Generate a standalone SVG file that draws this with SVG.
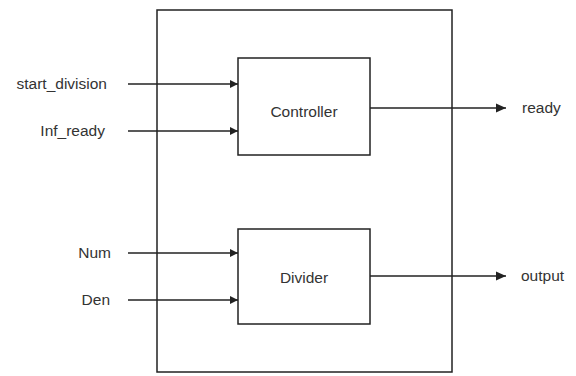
<svg xmlns="http://www.w3.org/2000/svg" width="576" height="376" viewBox="0 0 576 376">
<style>
.box{fill:none;stroke:#222;stroke-width:1.5}
.ln{stroke:#222;stroke-width:1.5;fill:none}
.t{font-family:"Liberation Sans",Arial,sans-serif;font-size:15.5px;fill:#333}
</style>
<defs>
<marker id="ah" markerWidth="8" markerHeight="8" refX="8" refY="4" orient="auto" markerUnits="userSpaceOnUse">
<path d="M0,0 L8,4 L0,8 Z" fill="#222"/>
</marker>
<marker id="ah2" markerWidth="10" markerHeight="10" refX="10" refY="5" orient="auto" markerUnits="userSpaceOnUse">
<path d="M0,0.5 L10,5 L0,9.5 Z" fill="#222"/>
</marker>
</defs>
<rect width="576" height="376" fill="#fff"/>
<g id="system"><rect class="box" x="157" y="10" width="295" height="362"/></g>
<g id="controller"><rect class="box" x="238" y="58" width="132" height="97"/><text class="t" x="304" y="117" text-anchor="middle">Controller</text></g>
<g id="divider"><rect class="box" x="238" y="229" width="132" height="95"/><text class="t" x="304" y="283" text-anchor="middle">Divider</text></g>
<g id="labels">
<text class="t" x="107" y="89" text-anchor="end">start_division</text>
<text class="t" x="105" y="136" text-anchor="end">Inf_ready</text>
<text class="t" x="111" y="258" text-anchor="end">Num</text>
<text class="t" x="110" y="305" text-anchor="end">Den</text>
<text class="t" x="522" y="113">ready</text>
<text class="t" x="521" y="281">output</text>
</g>
<g id="connectors">
<line class="ln" x1="128" y1="84" x2="238" y2="84" marker-end="url(#ah)"/>
<line class="ln" x1="128" y1="131" x2="238" y2="131" marker-end="url(#ah)"/>
<line class="ln" x1="128" y1="253" x2="238" y2="253" marker-end="url(#ah)"/>
<line class="ln" x1="128" y1="300" x2="238" y2="300" marker-end="url(#ah)"/>
<line class="ln" x1="370" y1="108" x2="506" y2="108" marker-end="url(#ah2)"/>
<line class="ln" x1="370" y1="276" x2="506" y2="276" marker-end="url(#ah2)"/>
</g>
</svg>
